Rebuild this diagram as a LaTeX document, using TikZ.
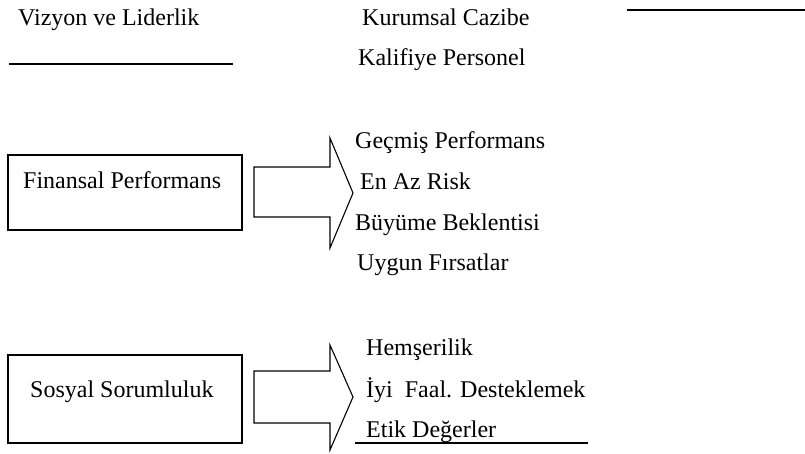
\documentclass[tikz,border=0pt]{standalone}
\usepackage{fontspec}
\setmainfont{Liberation Serif}
\begin{document}
\begin{tikzpicture}[x=1pt,y=-1pt,
  txt/.style={font=\fontsize{24}{28}\selectfont, inner sep=0pt, anchor=base west},
  ln/.style={line width=1.2pt},
  boxframe/.style={draw, line width=1.1pt, inner sep=0pt},
  blockarrow/.style={draw, line width=1.1pt, line join=miter}]
\useasboundingbox (0,0) rectangle (805,453);
% top row
\node[txt] (viz) at (18,25) {Vizyon ve Liderlik};
\node[txt] (kur) at (362,25) {Kurumsal Cazibe};
\node[txt] (kal) at (358,65) {Kalifiye Personel};
\draw[ln] (9,64) -- (233,64);
\draw[ln] (627,10) -- (805,10);
% financial
\node[boxframe, minimum width=234pt, minimum height=75pt] (finbox) at (125,192.5) {};
\node[txt] (fin) at (23,188) {Finansal Performans};
\draw[blockarrow] (254,167) -- (330,167) -- (330,138) -- (353,193) -- (330,248) -- (330,217) -- (254,217) -- cycle;
\node[txt] (f1) at (355,148) {Geçmiş Performans};
\node[txt] (f2) at (360,189) {En Az Risk};
\node[txt] (f3) at (355,230) {Büyüme Beklentisi};
\node[txt] (f4) at (357,270) {Uygun Fırsatlar};
% social
\node[boxframe, minimum width=234pt, minimum height=88pt] (sosbox) at (125,399) {};
\node[txt] (sos) at (30,397) {Sosyal Sorumluluk};
\draw[blockarrow] (254,371) -- (330,371) -- (330,345) -- (353,397) -- (330,450) -- (330,423) -- (254,423) -- cycle;
\node[txt] (s1) at (366,355) {Hemşerilik};
\node[txt] (s2) at (366,397) {İyi\ \ Faal. Desteklemek};
\node[txt] (s3) at (366,437) {Etik Değerler};
\draw[ln] (355,443) -- (588,443);
\end{tikzpicture}
\end{document}
